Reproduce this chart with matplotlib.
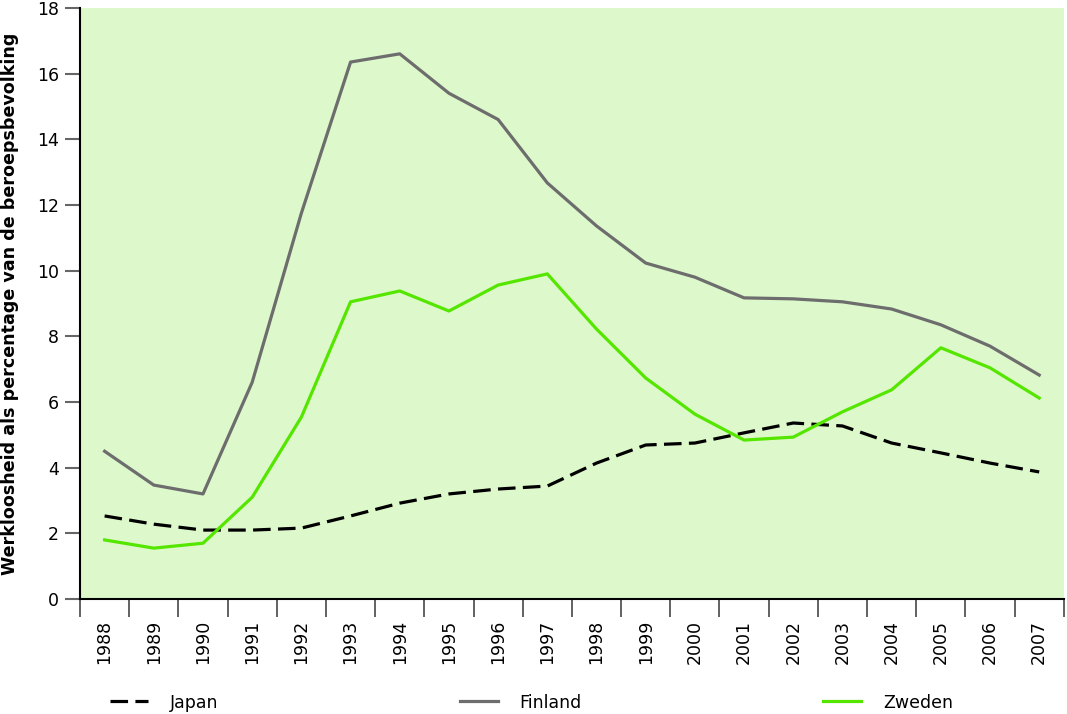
import matplotlib
matplotlib.use("Agg")
import matplotlib.pyplot as plt
import numpy as np

years = [str(y) for y in range(1988, 2008)]
japan = [2.53, 2.28, 2.1, 2.1, 2.16, 2.53, 2.92, 3.2, 3.35, 3.44,
         4.14, 4.69, 4.75, 5.06, 5.36, 5.27, 4.75, 4.45, 4.14, 3.87]
finland = [4.5, 3.47, 3.2, 6.6, 11.75, 16.35, 16.6, 15.4, 14.6, 12.67,
           11.36, 10.23, 9.8, 9.17, 9.14, 9.05, 8.83, 8.35, 7.7, 6.82]
zweden = [1.8, 1.55, 1.7, 3.1, 5.54, 9.05, 9.38, 8.77, 9.56, 9.9,
          8.22, 6.73, 5.63, 4.84, 4.93, 5.7, 6.37, 7.65, 7.04, 6.12]

plt.rcParams['font.family'] = ['DejaVu Sans']

fig = plt.figure(figsize=(10.67, 7.14), dpi=100)
ax = fig.add_axes([0.075, 0.161, 0.922, 0.828])
ax.set_facecolor('#ddf9cb')

x = np.arange(len(years))
ax.plot(x, japan, color='black', lw=2.3, dashes=[5.5, 2.3], label='Japan')
ax.plot(x, finland, color='#6d6d6d', lw=2.3, label='Finland')
ax.plot(x, zweden, color='#55e600', lw=2.3, label='Zweden')

ax.set_xlim(-0.5, len(years) - 0.5)
ax.set_ylim(0, 18)
ax.set_yticks(range(0, 19, 2))
ax.set_xticks(x)
ax.set_xticklabels(years, rotation=90)
ax.set_xticks(np.arange(-0.5, len(years)), minor=True)
ax.tick_params(axis='x', which='major', length=0, pad=15, labelsize=12.5)
ax.tick_params(axis='x', which='minor', length=13, width=1.3, color='#555555')
ax.tick_params(axis='y', length=11, width=1.5, color='#666666', labelsize=12.5, pad=4)

for s in ['top', 'right']:
    ax.spines[s].set_visible(False)
ax.spines['left'].set_linewidth(1.5)
ax.spines['bottom'].set_linewidth(1.5)

ax.set_ylabel('Werkloosheid als percentage van de beroepsbevolking',
              fontsize=12.6, fontweight='bold')
ax.yaxis.set_label_coords(-0.062, 0.5)

fig.legend(loc='center left', bbox_to_anchor=(0.0885, 0.016), ncol=3,
           frameon=False, fontsize=12.5, handlelength=2.2, handletextpad=1.25,
           columnspacing=13.9)

fig.savefig('out.png', dpi=100)
